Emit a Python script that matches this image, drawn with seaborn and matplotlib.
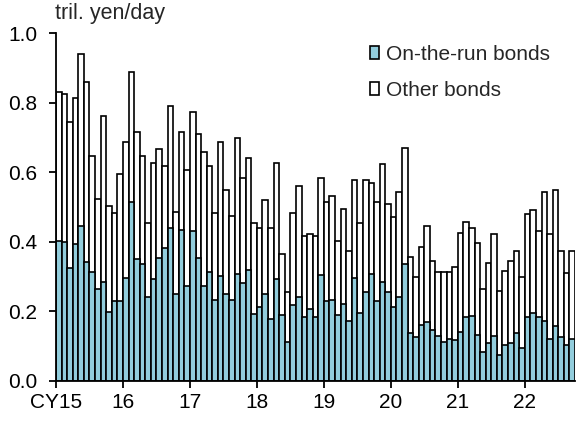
import matplotlib
matplotlib.use("Agg")
import matplotlib.pyplot as plt
from matplotlib.patches import Patch
import seaborn as sns
import pandas as pd

# ---- data (tril. yen/day), monthly Jan 2015 - Sep 2022 ----
year_labels = ["CY15", "16", "17", "18", "19", "20", "21", "22"]
month_labels = [f"{y}-{m:02d}" for y in range(2015, 2023) for m in range(1, 13)][:93]

total_turnover = [
    0.832, 0.825, 0.746, 0.813, 0.939, 0.859, 0.647, 0.522, 0.762, 0.504, 0.482, 0.595,
    0.686, 0.888, 0.716, 0.647, 0.453, 0.626, 0.666, 0.618, 0.791, 0.487, 0.716, 0.606,
    0.773, 0.710, 0.657, 0.618, 0.482, 0.686, 0.549, 0.474, 0.699, 0.583, 0.641, 0.453,
    0.440, 0.520, 0.440, 0.628, 0.365, 0.256, 0.482, 0.561, 0.416, 0.422, 0.416, 0.583,
    0.515, 0.533, 0.402, 0.493, 0.373, 0.578, 0.453, 0.578, 0.568, 0.515, 0.624, 0.510,
    0.470, 0.544, 0.669, 0.355, 0.299, 0.384, 0.446, 0.344, 0.314, 0.314, 0.314, 0.328,
    0.424, 0.458, 0.440, 0.395, 0.263, 0.338, 0.423, 0.257, 0.315, 0.344, 0.372, 0.298,
    0.481, 0.491, 0.430, 0.544, 0.423, 0.549, 0.372, 0.310, 0.372,
]
on_the_run = [
    0.402, 0.400, 0.325, 0.394, 0.445, 0.343, 0.312, 0.263, 0.283, 0.199, 0.228, 0.228,
    0.297, 0.514, 0.349, 0.336, 0.240, 0.292, 0.353, 0.381, 0.440, 0.251, 0.434, 0.273,
    0.432, 0.354, 0.272, 0.314, 0.232, 0.301, 0.250, 0.232, 0.307, 0.280, 0.320, 0.192,
    0.211, 0.250, 0.177, 0.292, 0.190, 0.112, 0.217, 0.240, 0.184, 0.205, 0.182, 0.303,
    0.228, 0.232, 0.190, 0.220, 0.172, 0.297, 0.194, 0.256, 0.306, 0.230, 0.283, 0.256,
    0.213, 0.240, 0.336, 0.137, 0.126, 0.160, 0.169, 0.147, 0.130, 0.112, 0.121, 0.117,
    0.141, 0.184, 0.187, 0.132, 0.084, 0.108, 0.130, 0.073, 0.103, 0.108, 0.136, 0.093,
    0.182, 0.194, 0.184, 0.172, 0.120, 0.157, 0.127, 0.103, 0.119,
]
y_ticks = [0.0, 0.2, 0.4, 0.6, 0.8, 1.0]

BLUE = "#92CDDC"
FS = 15

sns.set_style("ticks")
plt.rcParams["font.family"] = ["Liberation Sans", "DejaVu Sans"]

df = pd.DataFrame({"month": month_labels, "total": total_turnover, "otr": on_the_run})

fig = plt.figure(figsize=(5.76, 4.23), dpi=100)
ax = fig.add_axes([56 / 576, 1 - 380.7 / 423, 519 / 576, 347.4 / 423])

sns.barplot(data=df, x="month", y="total", order=month_labels, color="white",
            saturation=1, edgecolor="black", linewidth=1.2, width=1.0, ax=ax)
sns.barplot(data=df, x="month", y="otr", order=month_labels, color=BLUE,
            saturation=1, edgecolor="black", linewidth=1.2, width=1.0, ax=ax)

ax.set_xlim(-0.5, len(month_labels) - 0.5)
ax.set_ylim(0, 1.0)
ax.set_xticks([-0.5 + 12 * i for i in range(len(year_labels))])
ax.set_xticklabels(year_labels)
ax.set_yticks(y_ticks)
ax.set_yticklabels([f"{v:.1f}" for v in y_ticks])
ax.set_xlabel("")
ax.set_ylabel("")
for s in ["top", "right"]:
    ax.spines[s].set_visible(False)
for s in ["left", "bottom"]:
    ax.spines[s].set_linewidth(1.3)
    ax.spines[s].set_color("black")
ax.tick_params(axis="both", direction="out", length=5, width=1.3, labelsize=FS,
               colors="black")
ax.tick_params(axis="x", pad=4)
ax.tick_params(axis="y", pad=8.5)

fig.text(55 / 576, 1 - 14 / 423, "tril. yen/day", fontsize=15.5, ha="left", va="center")

handles = [Patch(facecolor=BLUE, edgecolor="black", linewidth=1.2, label="On-the-run bonds"),
           Patch(facecolor="white", edgecolor="black", linewidth=1.2, label="Other bonds")]
fig.legend(handles=handles, loc="upper left", bbox_to_anchor=(370 / 576, 1 - 45 / 423),
           frameon=False, fontsize=FS, handlelength=0.45, handleheight=0.55,
           handletextpad=0.3, labelspacing=0.8, borderpad=0, borderaxespad=0)

fig.savefig("out.png", dpi=100)
